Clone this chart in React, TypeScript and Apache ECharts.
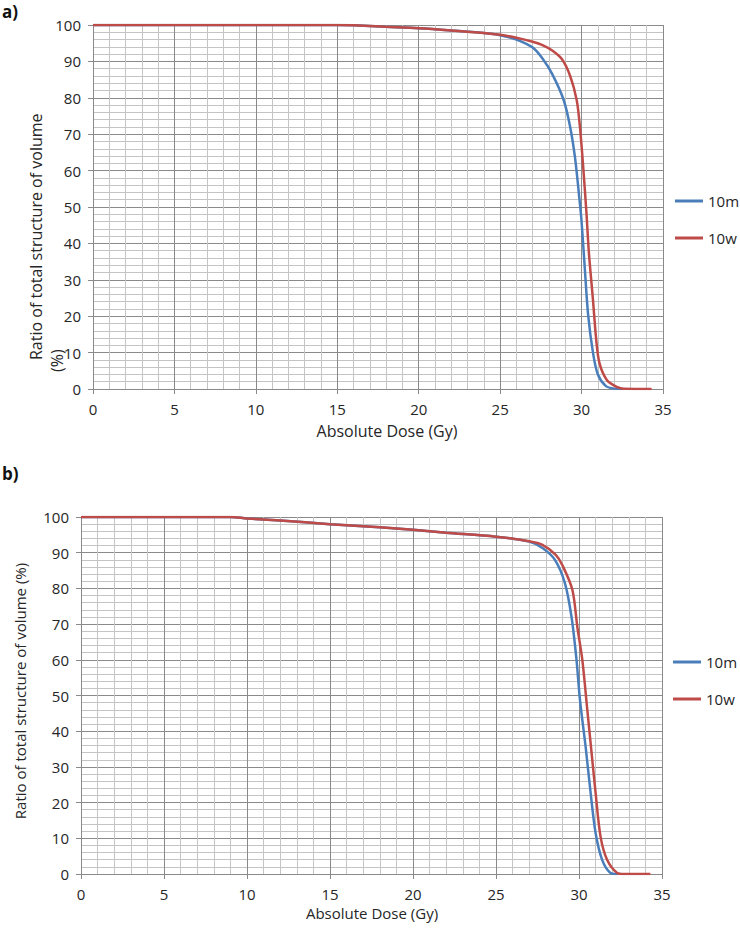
import React, { useEffect, useRef } from "react";
import * as echarts from "echarts";

// ---- Data (Absolute Dose (Gy), Ratio %) ----
const seriesNames = ["10m", "10w"];
const xTicks = [0, 5, 10, 15, 20, 25, 30, 35];
const yTicks = [0, 10, 20, 30, 40, 50, 60, 70, 80, 90, 100];

const panelA_10m: [number, number][] = [
  [0, 100], [5, 100], [10, 100], [15, 100], [16, 99.9], [18, 99.5], [20, 99.1],
  [22, 98.5], [24, 97.8], [25, 97.2], [26, 96.0], [27, 93.8], [27.6, 90.8],
  [28.2, 86.5], [28.9, 79.4], [29.3, 72], [29.6, 63.5], [29.85, 53], [30.0, 46],
  [30.2, 33], [30.4, 20.5], [30.7, 10], [31.0, 4], [31.5, 0.8], [32.0, 0.1], [32.5, 0],
];
const panelA_10w: [number, number][] = [
  [0, 100], [5, 100], [10, 100], [15, 100], [16, 99.9], [18, 99.5], [20, 99.1],
  [22, 98.5], [24, 97.8], [25, 97.3], [26, 96.5], [27, 95.4], [27.6, 94.5],
  [28.2, 93], [28.8, 90.6], [29.3, 86], [29.7, 79.4], [29.9, 72], [30.1, 61],
  [30.3, 48.3], [30.45, 37.4], [30.7, 24.5], [30.9, 13.5], [31.1, 7.1],
  [31.55, 2.5], [32.2, 0.5], [32.6, 0.05], [34.3, 0],
];
const panelB_10m: [number, number][] = [
  [0, 100], [5, 100], [9, 100], [10, 99.6], [12, 99], [15, 98], [18, 97.1],
  [20, 96.4], [22, 95.6], [25, 94.5], [27, 93.1], [27.8, 91.3], [28.55, 88],
  [29.15, 81.5], [29.55, 72], [29.85, 60], [30.06, 48.7], [30.4, 35.6],
  [30.7, 22.7], [31.0, 11.5], [31.4, 3.9], [31.9, 0.3], [32.3, 0],
];
const panelB_10w: [number, number][] = [
  [0, 100], [5, 100], [9, 100], [10, 99.6], [12, 99], [15, 98], [18, 97.1],
  [20, 96.4], [22, 95.6], [25, 94.5], [27, 93.2], [27.8, 92.2], [28.6, 89.4],
  [29.0, 86.5], [29.6, 79.6], [29.9, 69.2], [30.2, 60], [30.5, 46],
  [30.8, 32], [31.0, 22.7], [31.3, 10.4], [31.7, 3.9], [32.3, 0.3],
  [32.7, 0], [34.3, 0],
];

const yTitleLine1 = "Ratio of total structure of volume";
const yTitleLine2 = "(%)";
const yTitleFull = "Ratio of total structure of volume (%)";
const xTitle = "Absolute Dose (Gy)";
const panelLabels = ["a)", "b)"];

const FONT = "'Open Sans', 'Liberation Sans', sans-serif";
const TXT = "#262626";
const BLUE = "#4a7ebb";
const RED = "#be4b48";
const MAJOR = "#8a8a8a";
const MINOR = "#c4c4c4";

function xAxisDef(gridIndex: number) {
  return {
    type: "value",
    gridIndex,
    min: xTicks[0],
    max: xTicks[xTicks.length - 1],
    interval: 5,
    axisLine: { show: true, lineStyle: { color: MAJOR, width: 1 } },
    axisTick: { show: true, inside: false, length: 5, lineStyle: { color: MAJOR } },
    axisLabel: { color: TXT, fontFamily: FONT, fontSize: 15, margin: 12 },
    splitLine: { show: true, lineStyle: { color: MAJOR, width: 1 } },
    minorTick: { show: false, splitNumber: 5 },
    minorSplitLine: { show: true, lineStyle: { color: MINOR, width: 1 } },
  };
}
function yAxisDef(gridIndex: number) {
  return {
    type: "value",
    gridIndex,
    min: yTicks[0],
    max: yTicks[yTicks.length - 1],
    interval: 10,
    axisLine: { show: true, lineStyle: { color: MAJOR, width: 1 } },
    axisTick: { show: true, inside: false, length: 5, lineStyle: { color: MAJOR } },
    axisLabel: { color: TXT, fontFamily: FONT, fontSize: 15, margin: 12 },
    splitLine: { show: true, lineStyle: { color: MAJOR, width: 1 } },
    minorTick: { show: false, splitNumber: 5 },
    minorSplitLine: { show: true, lineStyle: { color: MINOR, width: 1 } },
  };
}
function lineSeries(name: string, data: [number, number][], idx: number, color: string) {
  return {
    type: "line",
    name,
    data,
    xAxisIndex: idx,
    yAxisIndex: idx,
    showSymbol: false,
    symbol: "none",
    smooth: 0.3,
    lineStyle: { color, width: 2.5 },
    itemStyle: { color },
    z: 5,
  };
}

export default function App() {
  const ref = useRef<HTMLDivElement>(null);
  useEffect(() => {
    const chart = echarts.init(ref.current!, null, { renderer: "svg" });
    const legendBase = {
      orient: "vertical",
      icon: "rect",
      itemWidth: 28,
      itemHeight: 3,
      itemGap: 19,
      textStyle: { color: TXT, fontFamily: FONT, fontSize: 15, lineHeight: 18 },
      data: seriesNames,
      selectedMode: false,
    };
    chart.setOption({
      animation: false,
      backgroundColor: "#ffffff",
      grid: [
        { left: 93, top: 25, width: 570, height: 364 },
        { left: 81, top: 517, width: 581, height: 357 },
      ],
      xAxis: [xAxisDef(0), xAxisDef(1)],
      yAxis: [yAxisDef(0), yAxisDef(1)],
      legend: [
        { ...legendBase, left: 670, top: 187 },
        { ...legendBase, left: 668, top: 648 },
      ],
      series: [
        lineSeries(seriesNames[0], panelA_10m, 0, BLUE),
        lineSeries(seriesNames[1], panelA_10w, 0, RED),
        lineSeries(seriesNames[0], panelB_10m, 1, BLUE),
        lineSeries(seriesNames[1], panelB_10w, 1, RED),
      ],
      graphic: [
        { type: "text", left: 2, top: 3, style: { text: panelLabels[0], font: `bold 17px ${FONT}`, fill: "#111" } },
        { type: "text", left: 2, top: 465, style: { text: panelLabels[1], font: `bold 17px ${FONT}`, fill: "#111" } },
        {
          type: "text", x: 36, y: 360, rotation: Math.PI / 2,
          style: { text: yTitleLine1, font: `16px ${FONT}`, fill: TXT, textAlign: "left", textVerticalAlign: "middle" },
        },
        {
          type: "text", x: 57, y: 372, rotation: Math.PI / 2,
          style: { text: yTitleLine2, font: `16px ${FONT}`, fill: TXT, textAlign: "left", textVerticalAlign: "middle" },
        },
        {
          type: "text", x: 20, y: 691, rotation: Math.PI / 2,
          style: { text: yTitleFull, font: `15px ${FONT}`, fill: TXT, textAlign: "center", textVerticalAlign: "middle" },
        },
        {
          type: "text", x: 387, y: 431,
          style: { text: xTitle, font: `16px ${FONT}`, fill: TXT, textAlign: "center", textVerticalAlign: "middle" },
        },
        {
          type: "text", x: 372, y: 913,
          style: { text: xTitle, font: `15px ${FONT}`, fill: TXT, textAlign: "center", textVerticalAlign: "middle" },
        },
      ],
    });
    return () => chart.dispose();
  }, []);
  return (
    <div
      ref={ref}
      style={{ position: "absolute", left: 0, top: 0, width: 740, height: 929, background: "#fff" }}
    />
  );
}
